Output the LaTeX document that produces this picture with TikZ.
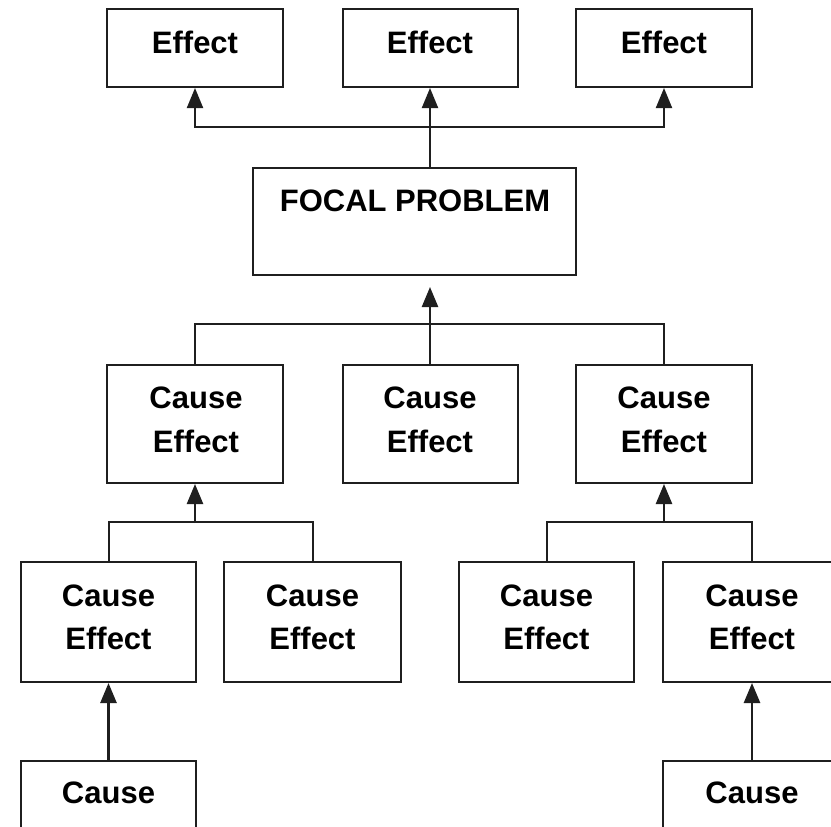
\documentclass[tikz,border=0pt]{standalone}
\usepackage{fontspec}
\setmainfont{Liberation Sans}
\usetikzlibrary{arrows.meta}
\tikzset{
  box/.style={draw=black!88, line width=2pt, rectangle, inner sep=0pt},
  lbl/.style={font=\bfseries\fontsize{31}{36}\selectfont, anchor=base, inner sep=0pt},
  conn/.style={draw=black!88, line width=2pt},
  arr/.style={conn, -{Triangle[length=20pt,width=16pt]}},
}
\begin{document}
\begin{tikzpicture}[x=1pt,y=-1pt]
\useasboundingbox (0,0) rectangle (831,827);
\clip (0,0) rectangle (831,827);
\fill[white] (0,0) rectangle (831,827);
% top effects
\node[box, minimum width=176pt, minimum height=78pt] (e1) at (195,48) {};
\node[box, minimum width=175pt, minimum height=78pt] (e2) at (430,48) {};
\node[box, minimum width=176pt, minimum height=78pt] (e3) at (664,48) {};
\node[lbl] (te1) at (195,53) {Effect};
\node[lbl] (te2) at (430,53) {Effect};
\node[lbl] (te3) at (664,53) {Effect};
% focal
\node[box, minimum width=323pt, minimum height=107pt] (focal) at (414.5,221.5) {};
\node[lbl] (tf) at (415,211) {FOCAL PROBLEM};
% cause-effect row
\node[box, minimum width=176pt, minimum height=118pt] (ce1) at (195,424) {};
\node[box, minimum width=175pt, minimum height=118pt] (ce2) at (430,424) {};
\node[box, minimum width=176pt, minimum height=118pt] (ce3) at (664,424) {};
\foreach \n/\x in {1/196,2/430,3/664}{
  \node[lbl] (tc\n a) at (\x,408) {Cause};
  \node[lbl] (tc\n b) at (\x,452) {Effect};
}
% third row
\node[box, minimum width=175pt, minimum height=120pt] (r1) at (108.5,622) {};
\node[box, minimum width=177pt, minimum height=120pt] (r2) at (312.5,622) {};
\node[box, minimum width=175pt, minimum height=120pt] (r3) at (546.5,622) {};
\node[box, minimum width=178pt, minimum height=120pt] (r4) at (752,622) {};
\foreach \n/\x in {1/108.5,2/312.5,3/546.5,4/752}{
  \node[lbl] (tr\n a) at (\x,606) {Cause};
  \node[lbl] (tr\n b) at (\x,649) {Effect};
}
% bottom
\node[box, minimum width=175pt, minimum height=100pt] (b1) at (108.5,811) {};
\node[box, minimum width=178pt, minimum height=100pt] (b2) at (752,811) {};
\node[lbl] (tb1) at (108.5,803) {Cause};
\node[lbl] (tb2) at (752,803) {Cause};
% connectors: top
\coordinate (ej) at (430,127);
\draw[arr] (e2.south |- focal.north) -- (e2.south);
\draw[arr] (ej) -| (e1.south);
\draw[arr] (ej) -| (e3.south);
% connectors: focal
\coordinate (ftip) at (430,287);
\draw[conn] (ce1.north) -- ++(0,-40) -| (ce3.north);
\draw[arr, line width=2.4pt] (ce2.north) -- (ftip);
% left group
\draw[conn] (r1.north) -- ++(0,-39) -| (r2.north);
\draw[arr, line width=2.4pt] (ce1.south |- 0,523) -- (ce1.south);
% right group
\draw[conn] (r3.north) -- ++(0,-39) -| (r4.north);
\draw[arr, line width=2.4pt] (ce3.south |- 0,523) -- (ce3.south);
% bottom
\draw[arr, line width=2.6pt] (b1.north) -- (r1.south);
\draw[arr, line width=2.6pt] (b2.north) -- (r4.south);
\end{tikzpicture}
\end{document}
